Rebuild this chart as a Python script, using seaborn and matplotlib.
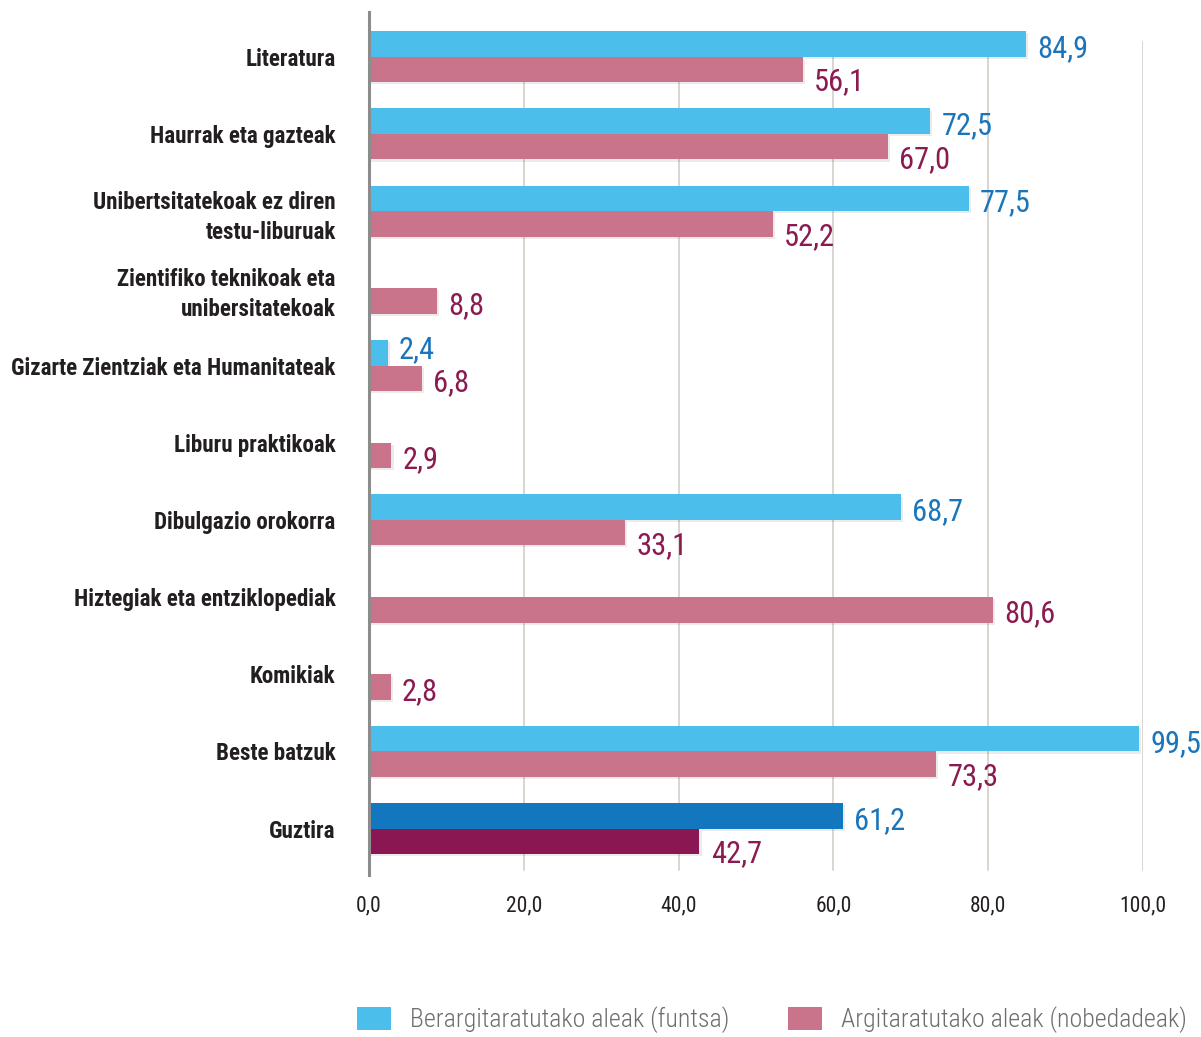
import os
import numpy as np
import pandas as pd
import matplotlib
matplotlib.use("Agg")
import matplotlib.pyplot as plt
import matplotlib.patheffects as pe
from matplotlib import font_manager as fm
import seaborn as sns

categories = [
    "Literatura",
    "Haurrak eta gazteak",
    "Unibertsitatekoak ez diren\ntestu-liburuak",
    "Zientifiko teknikoak eta\nunibersitatekoak",
    "Gizarte Zientziak eta Humanitateak",
    "Liburu praktikoak",
    "Dibulgazio orokorra",
    "Hiztegiak eta entziklopediak",
    "Komikiak",
    "Beste batzuk",
    "Guztira",
]
series_names = ["Berargitaratutako aleak (funtsa)", "Argitaratutako aleak (nobedadeak)"]
fondo = [84.9, 72.5, 77.5, np.nan, 2.4, np.nan, 68.7, np.nan, np.nan, 99.5, 61.2]
nobedadeak = [56.1, 67.0, 52.2, 8.8, 6.8, 2.9, 33.1, 80.6, 2.8, 73.3, 42.7]
x_ticks = [0, 20, 40, 60, 80, 100]

bar_colors = ["#4BBEEC", "#C9748A"]
total_colors = ["#1277BE", "#8A1752"]
label_colors = ["#1A75BB", "#8B1A50"]
text_color = "#231F20"

sns.set_style("white")
plt.rcParams["font.family"] = ["Roboto", "DejaVu Sans"]

# --- pick a condensed sans face from the installed fonts -----------------
font_paths = sorted({f.fname for f in fm.fontManager.ttflist})


def narrow_font(style):
    prefs = ["liberationsansnarrow", "robotocondensed", "notosans-condensed",
             "dejavusanscondensed", "opensans_condensed", "opensanscondensed",
             "condensed", "narrow"]
    for key in prefs:
        for p in font_paths:
            n = os.path.basename(p).lower().replace(" ", "")
            if key not in n:
                continue
            if any(w in n for w in ("italic", "oblique", "serif", "mono", "semicondensed",
                                    "extracondensed", "ultracondensed")):
                continue
            if style == "bold":
                ok = "bold" in n and not any(w in n for w in ("semibold", "extrabold", "demibold"))
            elif style == "light":
                ok = "light" in n and not any(w in n for w in ("extralight", "ultralight"))
            else:
                ok = not any(w in n for w in ("bold", "light", "thin", "black", "medium",
                                              "semi", "extra", "heavy"))
            if ok:
                return p
    return None


def font(style, size):
    p = narrow_font(style)
    if p is None and style == "light":
        p = narrow_font("regular")
    if p is not None:
        return fm.FontProperties(fname=p, size=size)
    weight = {"bold": "bold", "light": "light"}.get(style, "normal")
    return fm.FontProperties(family=["Roboto", "DejaVu Sans"], weight=weight, size=size)


df = pd.DataFrame({
    "kategoria": categories * 2,
    "serie": [series_names[0]] * len(categories) + [series_names[1]] * len(categories),
    "balioa": fondo + nobedadeak,
}).dropna()

W, H = 1201, 1037
fig = plt.figure(figsize=(W / 100, H / 100), dpi=100)
ax = fig.add_axes([369 / W, (H - 875) / H, 774 / W, 863 / H])

sns.barplot(data=df, y="kategoria", x="balioa", hue="serie", order=categories,
            hue_order=series_names, palette=bar_colors, orient="h",
            width=0.66, dodge=True, gap=0, errorbar=None, ax=ax, legend=True,
            saturation=1, linewidth=0)

ax.set_xlim(0, 100)
ax.set_ylim(len(categories) - 1 + 0.6, -0.58)

# light vertical grid
for v in x_ticks[1:]:
    ax.axvline(v, ymin=0.006, ymax=0.965, color="#D9D6D0", lw=1.4, zorder=0)

shadow = [pe.SimplePatchShadow(offset=(1.5, -1.5), shadow_rgbFace="#000000", alpha=0.08),
          pe.Normal()]

fp_value = font("regular", 22)
idx_total = categories.index("Guztira")
pad = 8
for s, cont in enumerate(ax.containers):
    vals = fondo if s == 0 else nobedadeak
    present = [i for i, v in enumerate(vals) if not np.isnan(v)]
    labels = [f"{vals[i]:.1f}".replace(".", ",") for i in present]
    for p in cont.patches:
        p.set_path_effects(shadow)
        yc = p.get_y() + p.get_height() / 2
        if abs(yc - idx_total) < 0.4:
            p.set_facecolor(total_colors[s])
    anns = ax.bar_label(cont, labels=labels, padding=pad, color=label_colors[s],
                        fontproperties=fp_value, annotation_clip=False)
    for ann, i in zip(anns, present):
        other = nobedadeak[i] if s == 0 else fondo[i]
        if s == 0:
            dy = 2 if vals[i] < other else -3.3
        else:
            dy = -9 if (not np.isnan(other) and other > vals[i]) else -3
        ann.xyann = (pad, dy)

ax.set_xticks(x_ticks)
ax.set_xticklabels([f"{v:.1f}".replace(".", ",") for v in x_ticks])
fp_tick = font("regular", 15.5)
for t in ax.get_xticklabels():
    t.set_fontproperties(fp_tick)
    t.set_color(text_color)
ax.tick_params(axis="x", length=0, pad=15)
ax.tick_params(axis="y", length=0, pad=24)
fp_cat = font("bold", 16.6)
for t in ax.get_yticklabels():
    t.set_fontproperties(fp_cat)
    t.set_color(text_color)
    t.set_linespacing(1.4)
ax.set_xlabel("")
ax.set_ylabel("")
for side in ["top", "right", "bottom"]:
    ax.spines[side].set_visible(False)
ax.spines["left"].set_color("#8C8C8C")
ax.spines["left"].set_linewidth(2.2)
ax.spines["left"].set_zorder(5)

handles, lbls = ax.get_legend_handles_labels()
ax.get_legend().remove()
leg = fig.legend(handles, lbls, loc="center left", bbox_to_anchor=(357 / W, 1 - 1020 / H),
                 ncol=2, frameon=False, prop=font("light", 18.6), borderpad=0,
                 borderaxespad=0, handlelength=1.32, handleheight=1.0,
                 handletextpad=0.74, columnspacing=2.25)
for t in leg.get_texts():
    t.set_color("#6E6E6E")

fig.savefig("out.png", dpi=100)
